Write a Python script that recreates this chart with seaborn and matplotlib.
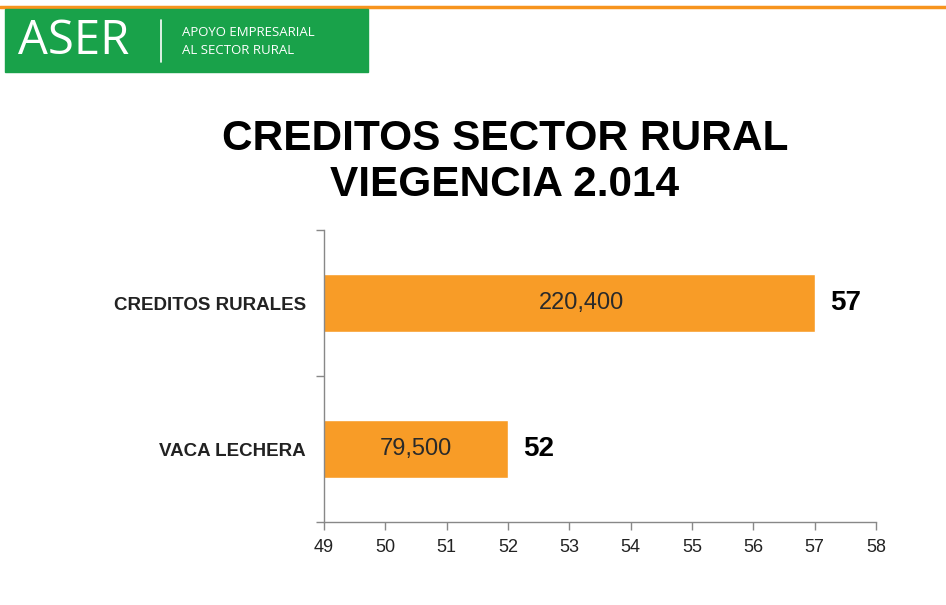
import matplotlib
matplotlib.use("Agg")
import matplotlib.pyplot as plt
import seaborn as sns
import pandas as pd
from matplotlib.patches import Rectangle
from matplotlib.lines import Line2D

categories = ["CREDITOS RURALES", "VACA LECHERA"]
values = [57, 52]
inner_labels = ["220,400", "79,500"]
outer_labels = ["57", "52"]
x_ticks = [49, 50, 51, 52, 53, 54, 55, 56, 57, 58]
title_lines = ["CREDITOS SECTOR RURAL", "VIEGENCIA 2.014"]

sns.set_style("white")
plt.rcParams['font.family'] = ['Liberation Sans', 'DejaVu Sans']

df = pd.DataFrame({"cat": categories, "val": values})

fig = plt.figure(figsize=(9.46, 6.05), dpi=100)
fig.patch.set_facecolor("white")

# header decorations
fig.add_artist(Line2D([0, 1], [1 - 7 / 605, 1 - 7 / 605], color="#F7941D", lw=2.5,
                      transform=fig.transFigure))
fig.add_artist(Rectangle((5 / 946, 1 - 72 / 605), 363 / 946, 63 / 605,
                         transform=fig.transFigure, color="#19A24A", zorder=2))
fig.text(18 / 946, 1 - 41 / 605, "ASER", color="white", fontsize=34,
         va="center", ha="left", zorder=3, family=["Open Sans", "DejaVu Sans"])
fig.add_artist(Line2D([161 / 946, 161 / 946], [1 - 20 / 605, 1 - 62 / 605],
                      color="white", lw=1.2, transform=fig.transFigure, zorder=3))
fig.text(182 / 946, 1 - 32 / 605, "APOYO EMPRESARIAL", color="white", fontsize=9.5,
         va="center", ha="left", zorder=3, family=["Open Sans", "DejaVu Sans"])
fig.text(182 / 946, 1 - 50 / 605, "AL SECTOR RURAL", color="white", fontsize=9.5,
         va="center", ha="left", zorder=3, family=["Open Sans", "DejaVu Sans"])

# title
fig.text(505 / 946, 1 - 139 / 605, title_lines[0], fontsize=30.5, fontweight="bold",
         ha="center", va="center", color="black")
fig.text(505 / 946, 1 - 185 / 605, title_lines[1], fontsize=30.5, fontweight="bold",
         ha="center", va="center", color="black")

ax = fig.add_axes([324 / 946, 1 - 522 / 605, 552 / 946, 292 / 605])
sns.barplot(data=df, x="val", y="cat", orient="h", color="#F89C27",
            saturation=1, width=0.4, ax=ax)

ax.set_xlim(x_ticks[0], x_ticks[-1])
ax.set_ylim(1.5, -0.5)
ax.set_xticks(x_ticks)
ax.set_xticklabels([str(t) for t in x_ticks], fontsize=13, color="#222222")
ax.set_xlabel("")
ax.set_ylabel("")
ax.set_yticks([0, 1])
ax.set_yticklabels(categories, fontsize=13.5, fontweight="bold", color="#222222")
ax.tick_params(axis="y", length=0, pad=13)
ax.set_yticks([-0.5, 0.5, 1.5], minor=True)
ax.tick_params(axis="y", which="minor", length=6, color="#888888", width=1,
               direction="out", left=True)
ax.tick_params(axis="x", length=6, color="#888888", width=1, direction="out",
               bottom=True, pad=6)
for s in ["top", "right"]:
    ax.spines[s].set_visible(False)
for s in ["left", "bottom"]:
    ax.spines[s].set_color("#888888")
    ax.spines[s].set_linewidth(1)

inner_x = [53.2, 50.5]
for i, (v, lab, olab) in enumerate(zip(values, inner_labels, outer_labels)):
    ax.text(inner_x[i], i, lab, ha="center", va="center", fontsize=17, color="#2a2a2a")
    ax.annotate(olab, xy=(v, i), xytext=(11, 0), textcoords="offset points",
                ha="left", va="center", fontsize=20, fontweight="bold", color="black",
                annotation_clip=False)

fig.savefig("out.png", dpi=100, facecolor="white")
